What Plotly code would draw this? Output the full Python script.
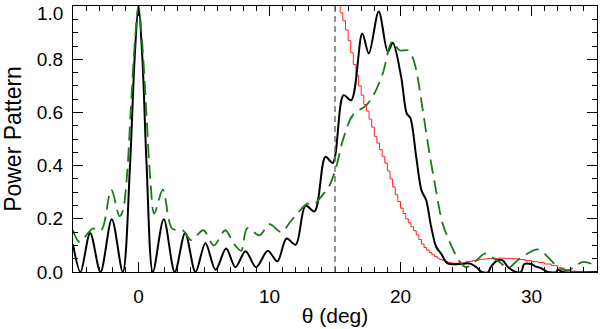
import plotly.graph_objects as go

# black: measured power pattern
black_theta = [-5.0, -4.43, -3.69, -2.9, -2.04, -1.2, -0.65, -0.3, 0.0, 0.3, 0.62, 1.1,
               1.93, 2.77, 3.56, 4.35, 5.11, 5.88, 6.69, 7.4, 8.17, 8.98, 9.87, 10.6,
               11.3, 12.0, 12.75, 13.44, 14.27, 14.83, 15.65, 16.24, 17.08, 17.58, 18.34,
               19.03, 19.41, 20.05, 20.48, 20.75, 21.2, 21.6, 21.96, 22.34, 22.73, 23.1,
               23.6, 24.5, 25.27, 25.78, 26.2, 26.7, 26.9, 27.43, 27.8, 28.2, 28.8, 29.2,
               29.45, 29.97, 30.35, 30.7, 31.25, 31.9, 32.0, 32.4, 35.0]
black_power = [0.105, 0.0, 0.147, 0.0, 0.198, 0.0, 0.40, 0.80, 1.0, 0.80, 0.40, 0.0,
               0.198, 0.0, 0.147, 0.0, 0.108, 0.008, 0.088, 0.018, 0.078, 0.018, 0.08, 0.04,
               0.126, 0.103, 0.25, 0.228, 0.433, 0.41, 0.665, 0.646, 0.897, 0.822, 0.98,
               0.828, 0.862, 0.734, 0.596, 0.58, 0.433, 0.307, 0.27, 0.17, 0.094, 0.069,
               0.032, 0.03, 0.032, 0.019, 0.0, 0.0, 0.019, 0.044, 0.044, 0.019, 0.0, 0.0,
               0.03, 0.03, 0.02, 0.015, 0.0, 0.0, 0.008, 0.0, 0.0]

# green dashed: model pattern
green_theta = [-5.0, -4.5, -3.5, -2.85, -2.08, -1.45, -1.2, -0.9, -0.6, -0.3, 0.0, 0.3,
               0.6, 0.9, 1.2, 1.86, 2.57, 3.38, 4.02, 4.95, 5.75, 6.62, 7.3, 7.84, 8.3,
               9.24, 10.0, 10.9, 11.6, 12.3, 12.9, 13.4, 13.82, 14.58, 15.09, 15.6, 16.36,
               17.38, 18.0, 18.65, 19.36, 19.92, 20.55, 20.9, 21.2, 21.45, 21.7, 22.2,
               22.7, 23.2, 23.87, 24.5, 25.0, 25.65, 26.45, 27.0, 27.7, 28.2, 29.1, 30.5,
               31.37, 32.0, 32.8, 33.4, 34.0, 35.0]
green_power = [0.157, 0.113, 0.163, 0.157, 0.31, 0.21, 0.23, 0.35, 0.6, 0.85, 1.0, 0.85,
               0.6, 0.35, 0.22, 0.31, 0.163, 0.157, 0.12, 0.157, 0.1, 0.157, 0.105, 0.08, 0.165,
               0.138, 0.18, 0.15, 0.19, 0.23, 0.257, 0.255, 0.276, 0.326, 0.395, 0.496, 0.59,
               0.627, 0.671, 0.747, 0.866, 0.834, 0.834, 0.81, 0.76, 0.69, 0.609, 0.45,
               0.31, 0.185, 0.1, 0.04, 0.018, 0.038, 0.069, 0.055, 0.032, 0.015, 0.05, 0.085,
               0.05, 0.019, 0.006, 0.025, 0.038, 0.022]

# red: stepped curve
red_theta = [15.2, 15.4, 15.6, 15.8, 16.0, 16.2, 16.4, 16.6, 16.8, 17.0, 17.2, 17.4, 17.6,
             17.8, 18.0, 18.2, 18.4, 18.6, 18.8, 19.0, 19.2, 19.4, 19.6, 19.8, 20.0, 20.2,
             20.4, 20.6, 20.8, 21.0, 21.2, 21.4, 21.6, 21.8, 22.0, 22.2, 22.4, 22.6, 22.8,
             23.0, 23.2, 23.4, 23.6, 23.8, 24.0, 24.5, 25.0, 25.5, 26.0, 26.5, 27.0, 27.5,
             28.0, 28.5, 29.0, 29.5, 30.0, 30.5, 31.0, 31.5, 32.0, 32.5, 33.0, 33.5, 34.0, 35.0]
red_power = [1.01, 0.975, 0.945, 0.91, 0.87, 0.825, 0.78, 0.74, 0.70, 0.665, 0.63, 0.605, 0.575,
             0.545, 0.51, 0.485, 0.46, 0.435, 0.41, 0.38, 0.35, 0.32, 0.29, 0.265, 0.24, 0.22,
             0.20, 0.185, 0.17, 0.155, 0.14, 0.122, 0.105, 0.092, 0.082, 0.073, 0.065, 0.058, 0.052,
             0.047, 0.043, 0.039, 0.036, 0.034, 0.033, 0.034, 0.04, 0.044, 0.048, 0.05, 0.051, 0.052,
             0.051, 0.05, 0.047, 0.043, 0.039, 0.036, 0.03, 0.024, 0.015, 0.008, 0.003, 0.001, 0.0, 0.0]

cut_theta = 15.0
y_ticks = [0, 0.2, 0.4, 0.6, 0.8, 1.0]
y_ticktext = ["0.0", "0.2", "0.4", "0.6", "0.8", ""]   # top label drawn separately, nudged down
x_ticks = [0, 10, 20, 30]

FONT = "Liberation Sans, Arial, Helvetica, sans-serif"

fig = go.Figure()

fig.add_trace(go.Scatter(x=red_theta, y=red_power, mode="lines",
                         line=dict(color="#ff2020", width=1, shape="hv"),
                         showlegend=False, hoverinfo="skip"))
fig.add_trace(go.Scatter(x=black_theta, y=black_power, mode="lines",
                         line=dict(color="black", width=2, shape="spline", smoothing=0.9),
                         showlegend=False))
fig.add_trace(go.Scatter(x=green_theta, y=green_power, mode="lines",
                         line=dict(color="#1a7a1a", width=1.8, dash="14px,7px",
                                   shape="spline", smoothing=0.9),
                         showlegend=False))

# vertical dashed marker at 15 deg
fig.add_vline(x=cut_theta, line=dict(color="#707070", width=1.5, dash="6px,4px"))

axis_common = dict(
    showline=True, linecolor="black", linewidth=1, mirror="ticks",
    ticks="inside", ticklen=10, tickcolor="black", tickwidth=1,
    showgrid=False, zeroline=False, automargin=False,
    tickfont=dict(family=FONT, size=19, color="black"),
)

fig.update_xaxes(range=[-5, 35], tickvals=x_ticks, ticklabelstandoff=7,
                 minor=dict(dtick=1, ticks="inside", ticklen=5, tickcolor="black"),
                 title=dict(text="θ (deg)", font=dict(family=FONT, size=21, color="black"),
                            standoff=2),
                 **axis_common)
fig.update_yaxes(range=[0, 1.0005], tickvals=y_ticks, ticktext=y_ticktext, ticklabelstandoff=5,
                 minor=dict(dtick=0.05, ticks="inside", ticklen=5, tickcolor="black"),
                 title=dict(text="Power Pattern", font=dict(family=FONT, size=23, color="black"),
                            standoff=15),
                 **axis_common)

fig.add_annotation(x=0, xref="paper", xanchor="right", xshift=-8,
                   y=1.0, yref="y", yanchor="middle", yshift=-7,
                   text="1.0", showarrow=False,
                   font=dict(family=FONT, size=19, color="black"))

fig.update_layout(
    width=600, height=329,
    margin=dict(l=73, r=3, t=6, b=57),
    plot_bgcolor="white", paper_bgcolor="white",
    font=dict(family=FONT, color="black"),
)

fig.write_html("out.html", config={"displayModeBar": False},
               post_script="document.body.style.margin='0';")
